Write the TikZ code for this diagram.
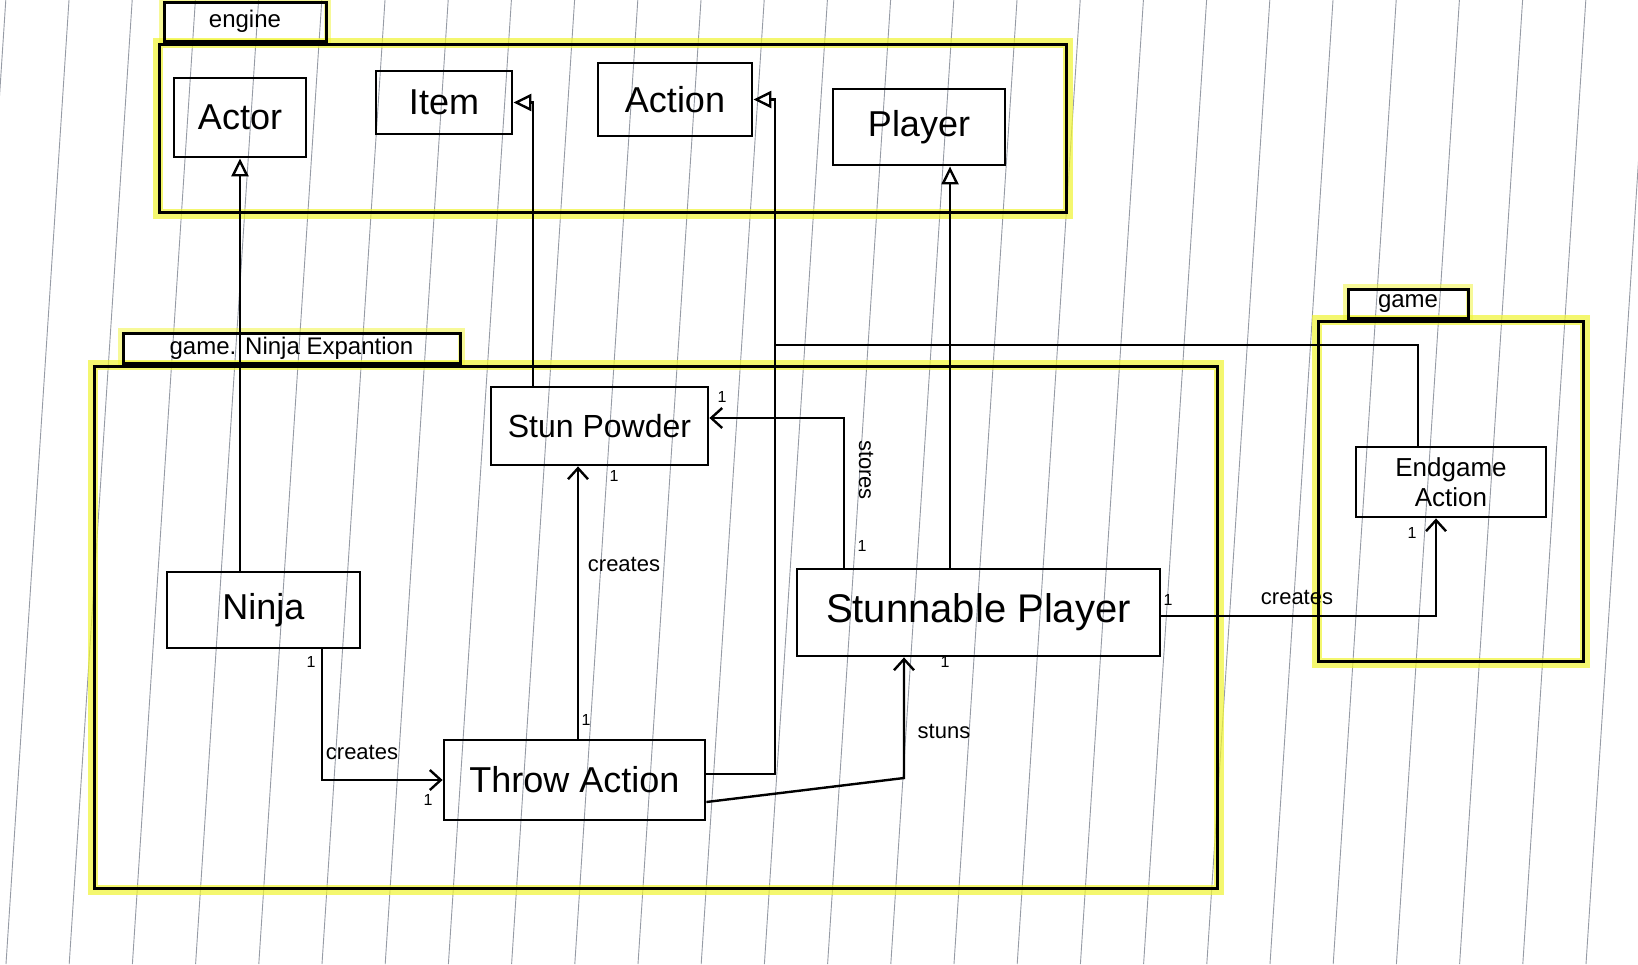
\documentclass[tikz,border=0pt]{standalone}
\usepackage{fontspec}
\setmainfont{Liberation Sans}
\usetikzlibrary{arrows.meta,backgrounds}

\definecolor{hiliter}{RGB}{240,244,50}
\definecolor{ruling}{RGB}{150,155,165}

\begin{document}
\begin{tikzpicture}[
        x=1pt, y=-1pt,
        cls/.style={draw, line width=2.8pt, inner sep=0pt, align=center, font=\fontsize{36}{36}\selectfont},
        pkg/.style={draw, line width=3pt, inner sep=0pt},
        tab/.style={draw, line width=3pt, inner sep=0pt, anchor=south west, font=\fontsize{24}{26}\selectfont},
        gen/.style={line width=2.4pt, -{Triangle[open, length=18pt, width=17pt, line width=2.4pt]}},
        assoc/.style={line width=2.4pt, -{Straight Barb[length=11pt, width=20pt, line width=2.4pt]}},
        link/.style={line width=2.4pt},
        lbl/.style={font=\fontsize{22}{24}\selectfont},
        mult/.style={font=\fontsize{16}{18}\selectfont}
    ]
        \useasboundingbox (0,0) rectangle (1638,964);

        % packages
        \node[pkg, minimum width=907pt, minimum height=168pt] (engine) at (612.5,128) {};
        \node[tab, minimum width=162pt, minimum height=39pt] (engineTab) at ([xshift=5pt]engine.north west) {engine};
        \node[pkg, minimum width=1123pt, minimum height=522pt] (ninjaPkg) at (655.5,627) {};
        \node[tab, minimum width=337pt, minimum height=30pt] (ninjaTab) at ([xshift=29pt]ninjaPkg.north west) {game. Ninja Expantion};
        \node[pkg, minimum width=265pt, minimum height=340pt] (gamePkg) at (1450.5,491) {};
        \node[tab, minimum width=120pt, minimum height=29pt] (gameTab) at ([xshift=30pt]gamePkg.north west) {game};

        % classes
        \node[cls, minimum width=132pt, minimum height=79pt] (actor) at (240,117.5) {Actor};
        \node[cls, minimum width=136pt, minimum height=63pt] (item) at (444,102.5) {Item};
        \node[cls, minimum width=154pt, minimum height=73pt] (action) at (675,99.5) {Action};
        \node[cls, minimum width=172pt, minimum height=76pt] (player) at (919,127) {Player};
        \node[cls, minimum width=217pt, minimum height=78pt, font=\fontsize{32}{32}\selectfont] (stun) at (599.5,426) {Stun Powder};
        \node[cls, minimum width=193pt, minimum height=76pt] (ninja) at (263.5,610) {Ninja};
        \node[cls, minimum width=261pt, minimum height=80pt] (throw) at (574.5,780) {Throw Action};
        \node[cls, minimum width=363pt, minimum height=87pt, font=\fontsize{40}{40}\selectfont] (splayer) at (978.5,612.5) {Stunnable Player};
        \node[cls, minimum width=190pt, minimum height=70pt, font=\fontsize{26}{30}\selectfont] (endg) at (1451,482) {Endgame\\Action};

        % bends
        \coordinate (itemBend) at (533,102.5);
        \coordinate (actionBend) at (775,99.5);
        \coordinate (actionBus) at (775,345);
        \coordinate (playerBend) at (950,0);
        \coordinate (ninjaOut) at (322,0);
        \coordinate (stunIn) at (578,0);
        \coordinate (storeBend) at (844,418);
        \coordinate (stunBend) at (904,778);
        \coordinate (endBend) at (1436,616);

        % generalisations
        \draw[gen] (ninja.north -| actor.south) -- (actor.south);
        \draw[gen] (stun.north -| itemBend) -- (itemBend) -- (item.east);
        \draw[gen] ([yshift=6pt]throw.east) -- ([yshift=6pt]throw.east -| actionBend) -- (actionBend) -- (action.east);
        \draw[link] ([xshift=-33pt]endg.north) |- (actionBus);
        \draw[gen] (splayer.north -| playerBend) -- (player.south -| playerBend);

        % associations
        \draw[assoc] (ninja.south -| ninjaOut) |- (throw.west);
        \node[lbl] (lblNinja) at (362,752) {creates};
        \draw[assoc] (throw.north -| stunIn) -- (stun.south -| stunIn);
        \node[lbl] (lblThrow) at (624,564) {creates};
        \draw[assoc] (splayer.north -| storeBend) -- (storeBend) -- (stun.east |- storeBend);
        \node[lbl, rotate=-90] (lblStore) at (866,470) {stores};
        \draw[assoc] ([yshift=-22pt]throw.east) -- (stunBend) -- (splayer.south -| stunBend);
        \node[lbl] (lblStuns) at (944,731) {stuns};
        \draw[assoc] (splayer.east |- endBend) -- (endBend) -- (endg.south -| endBend);
        \node[lbl] (lblEnd) at (1297,597) {creates};

        % multiplicities
        \node[mult] (m1) at (311,662) {1};
        \node[mult] (m2) at (428,800) {1};
        \node[mult] (m3) at (586,720) {1};
        \node[mult] (m4) at (614,476) {1};
        \node[mult] (m5) at (862,546) {1};
        \node[mult] (m6) at (722,397) {1};
        \node[mult] (m7) at (945,662) {1};
        \node[mult] (m8) at (1168,600) {1};
        \node[mult] (m9) at (1412,533) {1};

        \begin{scope}[on background layer]
            \fill[white] (0,0) rectangle (1638,964);
            \foreach \k in {-1,...,25} {
                \draw[ruling, line width=0.9pt] ({69+63.2*\k},0) -- ({6+63.2*\k},964);
            }
            \foreach \p in {engine,ninjaPkg,gamePkg} {
                \draw[hiliter, line width=10pt, opacity=0.7] (\p.north west) rectangle (\p.south east);
            }
            \foreach \p in {engineTab,ninjaTab,gameTab} {
                \draw[hiliter, line width=7pt, opacity=0.5] (\p.north west) rectangle (\p.south east);
            }
        \end{scope}
    \end{tikzpicture}
\end{document}
